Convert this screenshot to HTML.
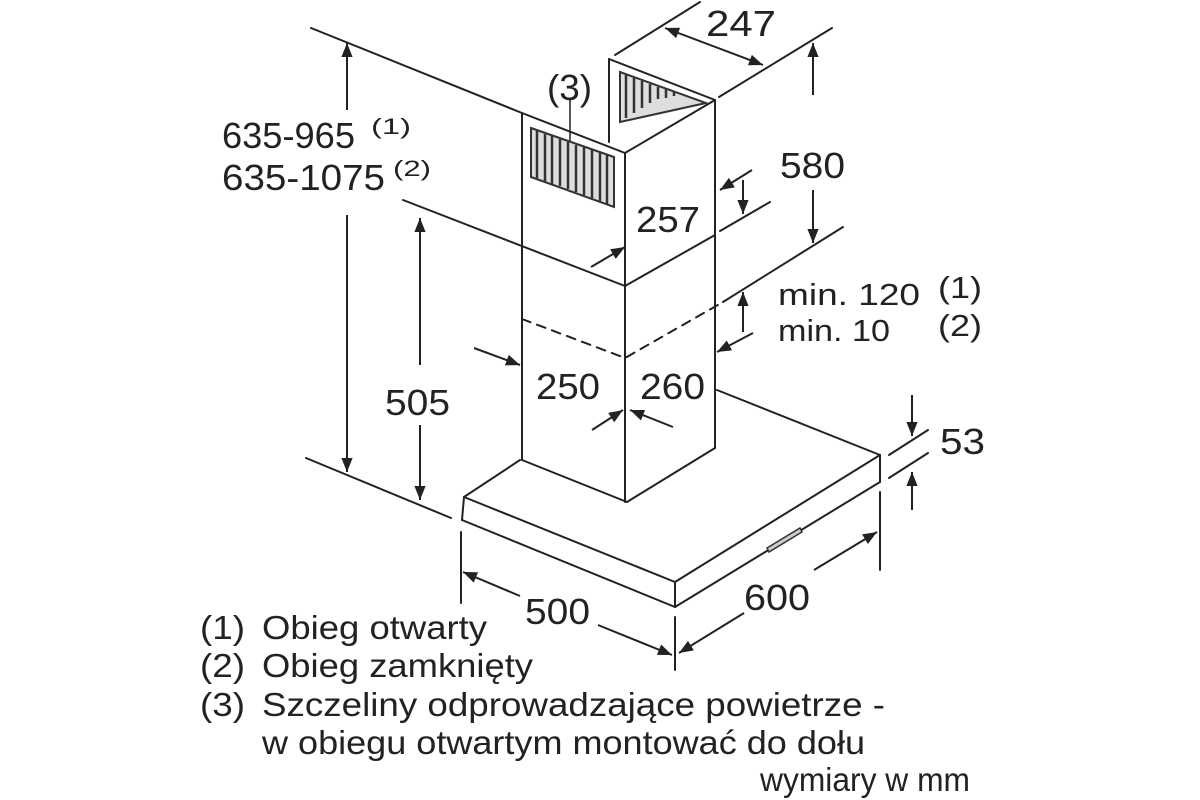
<!DOCTYPE html>
<html><head><meta charset="utf-8"><style>
html,body{margin:0;padding:0;background:#fff;}
svg{display:block;}
text{font-family:"Liberation Sans",sans-serif;fill:#222;}
</style></head><body>
<svg width="1200" height="800" viewBox="0 0 1200 800" xmlns="http://www.w3.org/2000/svg">
<defs>
<marker id="b" viewBox="0 0 10 10" refX="10" refY="5" markerWidth="18" markerHeight="14" orient="auto-start-reverse" markerUnits="userSpaceOnUse">
<path d="M0,1 L10,5 L0,9 z" fill="#222"/></marker>
</defs>
<g stroke="#222" stroke-width="2" fill="none" stroke-linecap="round">
<line x1="522" y1="113" x2="625" y2="153"/>
<line x1="625" y1="153" x2="715" y2="100"/>
<line x1="609" y1="59" x2="715" y2="100"/>
<line x1="609" y1="59" x2="609" y2="142"/>
<line x1="522" y1="113" x2="522" y2="460"/>
<line x1="625" y1="153" x2="625" y2="502"/>
<line x1="715" y1="100" x2="715" y2="448"/>
<line x1="403" y1="200" x2="625" y2="286"/>
<line x1="625" y1="286" x2="715" y2="235"/>
<polyline points="522,319 625,358 723,302" stroke-dasharray="9,7"/>
<line x1="723" y1="302" x2="843" y2="227"/>
<line x1="522" y1="460" x2="627" y2="502"/>
<line x1="627" y1="502" x2="715" y2="448"/>
<line x1="520" y1="460" x2="464" y2="497"/>
<line x1="464" y1="497" x2="675" y2="582"/>
<line x1="675" y1="582" x2="880" y2="455"/>
<line x1="717" y1="390" x2="880" y2="455"/>
<line x1="464" y1="497" x2="462" y2="520"/>
<line x1="462" y1="520" x2="675" y2="607"/>
<line x1="675" y1="607" x2="880" y2="482"/>
<line x1="880" y1="455" x2="880" y2="482"/>
<line x1="675" y1="582" x2="675" y2="607"/>
<line x1="311" y1="28" x2="522" y2="113"/>
<line x1="615" y1="55" x2="700" y2="2"/>
<line x1="719" y1="97" x2="832" y2="28"/>
<line x1="720" y1="231" x2="770" y2="202"/>
<line x1="306" y1="458" x2="451" y2="518"/>
<line x1="461" y1="532" x2="461" y2="603"/>
<line x1="675" y1="617" x2="675" y2="670"/>
<line x1="880" y1="492" x2="880" y2="570"/>
<line x1="889" y1="455" x2="928" y2="430"/>
<line x1="889" y1="478" x2="928" y2="453"/>
<line x1="570" y1="100" x2="570" y2="158" stroke-width="1.5"/>
</g>
<g stroke="#333" stroke-width="2" fill="none">
<polygon points="531,128 614,157 614,207 531,177" fill="#ddd"/>
<polygon points="620,72 706,103 620,122" fill="#ddd"/>
</g>
<g stroke="#333" stroke-width="2.5">
<line x1="537" y1="131" x2="537" y2="178"/><line x1="545" y1="134" x2="545" y2="181"/><line x1="552" y1="136" x2="552" y2="184"/><line x1="560" y1="139" x2="560" y2="186"/><line x1="568" y1="142" x2="568" y2="189"/><line x1="576" y1="145" x2="576" y2="192"/><line x1="584" y1="147" x2="584" y2="195"/><line x1="592" y1="150" x2="592" y2="198"/><line x1="600" y1="152" x2="600" y2="201"/><line x1="607" y1="155" x2="607" y2="204"/>
<line x1="626" y1="75" x2="626" y2="118"/><line x1="634" y1="78" x2="634" y2="113"/><line x1="642" y1="81" x2="642" y2="108"/><line x1="650" y1="84" x2="650" y2="103"/><line x1="658" y1="87" x2="658" y2="99"/><line x1="666" y1="89" x2="666" y2="98"/><line x1="674" y1="92" x2="674" y2="96"/>
</g>
<g stroke="#222" stroke-width="2" fill="none">
<line x1="347" y1="110" x2="347" y2="43" marker-end="url(#b)"/>
<line x1="347" y1="215" x2="347" y2="472" marker-end="url(#b)"/>
<line x1="420" y1="365" x2="420" y2="218" marker-end="url(#b)"/>
<line x1="420" y1="425" x2="420" y2="500" marker-end="url(#b)"/>
<line x1="665" y1="28" x2="763" y2="65" marker-start="url(#b)" marker-end="url(#b)"/>
<line x1="813" y1="95" x2="813" y2="43" marker-end="url(#b)"/>
<line x1="813" y1="190" x2="813" y2="243" marker-end="url(#b)"/>
<line x1="591" y1="267" x2="625" y2="247" marker-end="url(#b)"/>
<line x1="752" y1="170" x2="720" y2="190" marker-end="url(#b)"/>
<line x1="743" y1="180" x2="743" y2="214" marker-end="url(#b)"/>
<line x1="743" y1="332" x2="743" y2="292" marker-end="url(#b)"/>
<line x1="753" y1="333" x2="717" y2="352" marker-end="url(#b)"/>
<line x1="474" y1="348" x2="520" y2="365" marker-end="url(#b)"/>
<line x1="592" y1="430" x2="623" y2="410" marker-end="url(#b)"/>
<line x1="673" y1="427" x2="630" y2="410" marker-end="url(#b)"/>
<line x1="520" y1="596" x2="463" y2="572" marker-end="url(#b)"/>
<line x1="598" y1="625" x2="672" y2="655" marker-end="url(#b)"/>
<line x1="814" y1="570" x2="877" y2="532" marker-end="url(#b)"/>
<line x1="744" y1="613" x2="679" y2="653" marker-end="url(#b)"/>
<line x1="912" y1="395" x2="912" y2="436" marker-end="url(#b)"/>
<line x1="912" y1="510" x2="912" y2="472" marker-end="url(#b)"/>
</g>
<g stroke="#333" stroke-width="1.5" fill="#ccc">
<polygon points="767,548 800,528 802,532 769,552"/>
</g>
<g font-size="36" lengthAdjust="spacingAndGlyphs">
<text x="222" y="148" textLength="133" lengthAdjust="spacingAndGlyphs">635-965</text>
<text x="371" y="134" font-size="22" textLength="40" lengthAdjust="spacingAndGlyphs">(1)</text>
<text x="222" y="190" textLength="163" lengthAdjust="spacingAndGlyphs">635-1075</text>
<text x="393" y="176" font-size="22" textLength="38" lengthAdjust="spacingAndGlyphs">(2)</text>
<text x="547" y="100" textLength="45" lengthAdjust="spacingAndGlyphs">(3)</text>
<text x="706" y="36" textLength="70" lengthAdjust="spacingAndGlyphs">247</text>
<text x="780" y="178" textLength="65" lengthAdjust="spacingAndGlyphs">580</text>
<text x="636" y="232" textLength="64" lengthAdjust="spacingAndGlyphs">257</text>
<text x="778" y="305" font-size="31" textLength="142" lengthAdjust="spacingAndGlyphs">min. 120</text>
<text x="778" y="341" font-size="31" textLength="112" lengthAdjust="spacingAndGlyphs">min. 10</text>
<text x="938" y="298" font-size="31" textLength="44" lengthAdjust="spacingAndGlyphs">(1)</text>
<text x="938" y="336" font-size="31" textLength="44" lengthAdjust="spacingAndGlyphs">(2)</text>
<text x="385" y="415" textLength="65" lengthAdjust="spacingAndGlyphs">505</text>
<text x="536" y="399" textLength="64" lengthAdjust="spacingAndGlyphs">250</text>
<text x="640" y="399" textLength="65" lengthAdjust="spacingAndGlyphs">260</text>
<text x="940" y="454" textLength="45" lengthAdjust="spacingAndGlyphs">53</text>
<text x="525" y="624" textLength="65" lengthAdjust="spacingAndGlyphs">500</text>
<text x="744" y="610" textLength="66" lengthAdjust="spacingAndGlyphs">600</text>
</g>
<g font-size="33">
<text x="200" y="639" textLength="45" lengthAdjust="spacingAndGlyphs">(1)</text><text x="262" y="639" textLength="225" lengthAdjust="spacingAndGlyphs">Obieg otwarty</text>
<text x="200" y="677" textLength="45" lengthAdjust="spacingAndGlyphs">(2)</text><text x="262" y="677" textLength="271" lengthAdjust="spacingAndGlyphs">Obieg zamknięty</text>
<text x="200" y="716" textLength="45" lengthAdjust="spacingAndGlyphs">(3)</text><text x="262" y="716" textLength="623" lengthAdjust="spacingAndGlyphs">Szczeliny odprowadzające powietrze -</text>
<text x="262" y="754" textLength="603" lengthAdjust="spacingAndGlyphs">w obiegu otwartym montować do dołu</text>
<text x="760" y="791" textLength="210" lengthAdjust="spacingAndGlyphs">wymiary w mm</text>
</g>
</svg>
</body></html>
